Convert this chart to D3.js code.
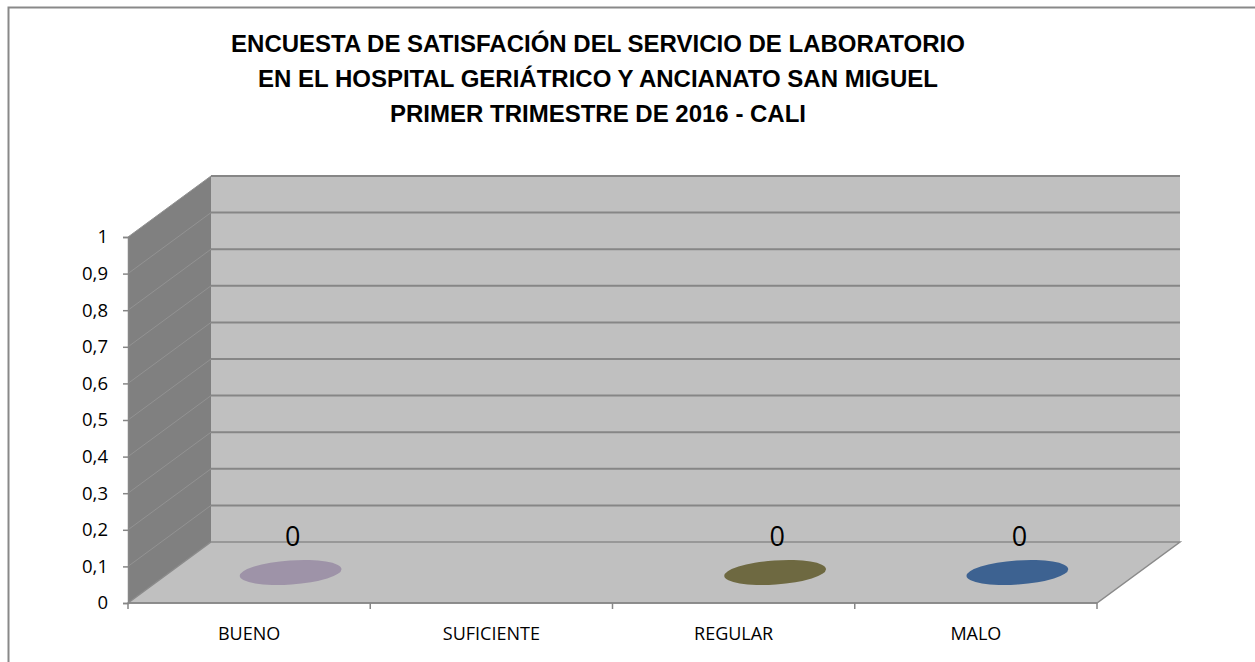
<!DOCTYPE html>
<html>
<head>
<meta charset="utf-8">
<script src="https://cdn.jsdelivr.net/npm/d3@7"></script>
<style>
body { margin: 0; background: #fff; }
svg text { font-family: "Open Sans", "Liberation Sans", sans-serif; }
</style>
</head>
<body>
<div id="chart"></div>
<script>
var w = 1255;
var h = 662;

var titleLines = [
  "ENCUESTA DE SATISFACIÓN DEL SERVICIO DE LABORATORIO",
  "EN EL HOSPITAL GERIÁTRICO Y ANCIANATO SAN MIGUEL",
  "PRIMER TRIMESTRE DE 2016 - CALI"
];
var categories = ["BUENO", "SUFICIENTE", "REGULAR", "MALO"];
var values = [0, null, 0, 0];
var colors = ["#9e93a8", null, "#6e6941", "#3d6291"];
var yTicks = [0, 0.1, 0.2, 0.3, 0.4, 0.5, 0.6, 0.7, 0.8, 0.9, 1];

// 3d depth offset
var dx = 83, dy = -61;

var x = d3.scaleBand().domain(categories).range([128, 1097]);
var y = d3.scaleLinear().domain([0, 1]).range([603, 237]);

var svg = d3.select("#chart").append("svg")
    .attr("width", w)
    .attr("height", h);

// chart border
svg.append("rect")
   .attr("x", 8.5).attr("y", 7.5)
   .attr("width", w + 10).attr("height", h + 10)
   .attr("fill", "none")
   .attr("stroke", "#898989")
   .attr("stroke-width", 2);

// title
svg.append("g").selectAll("text")
   .data(titleLines)
   .enter()
   .append("text")
   .attr("x", 598)
   .attr("y", function(d, i){ return 52 + i * 35; })
   .attr("text-anchor", "middle")
   .attr("font-size", "24px")
   .attr("font-weight", "bold")
   .attr("fill", "#000")
   .style("font-family", "'Liberation Sans', Arial, sans-serif")
   .text(function(d){ return d; });

var x0 = x.range()[0], x1 = x.range()[1];
var yMax = y(1), yMin = y(0);

// side wall
svg.append("path")
   .attr("d", "M" + x0 + "," + yMax + "L" + (x0 + dx) + "," + (yMax + dy) +
              "L" + (x0 + dx) + "," + (yMin + dy) + "L" + x0 + "," + yMin + "Z")
   .attr("fill", "#808080");

// back wall
svg.append("rect")
   .attr("x", x0 + dx).attr("y", yMax + dy)
   .attr("width", x1 - x0).attr("height", yMin - yMax)
   .attr("fill", "#c0c0c0");

// floor
svg.append("path")
   .attr("d", "M" + x0 + "," + yMin + "L" + (x0 + dx) + "," + (yMin + dy) +
              "L" + (x1 + dx) + "," + (yMin + dy) + "L" + x1 + "," + yMin + "Z")
   .attr("fill", "#c0c0c0")
   .attr("stroke", "#8a8a8a")
   .attr("stroke-width", 1.5);

// gridlines back wall
svg.append("g").selectAll("line")
   .data(yTicks.slice(1))
   .enter()
   .append("line")
   .attr("x1", x0 + dx).attr("x2", x1 + dx)
   .attr("y1", function(d){ return y(d) + dy; })
   .attr("y2", function(d){ return y(d) + dy; })
   .attr("stroke", "#868686")
   .attr("stroke-width", 2);

// gridlines side wall
svg.append("g").selectAll("line")
   .data(yTicks.slice(1))
   .enter()
   .append("line")
   .attr("x1", x0).attr("x2", x0 + dx)
   .attr("y1", function(d){ return y(d); })
   .attr("y2", function(d){ return y(d) + dy; })
   .attr("stroke", "#929292")
   .attr("stroke-width", 1);

// y axis
var yAxis = d3.axisLeft(y)
    .tickValues(yTicks)
    .tickSize(5)
    .tickFormat(function(d){ return String(d).replace(".", ","); });
var gy = svg.append("g")
    .attr("transform", "translate(" + x0 + ",0)")
    .call(yAxis);
gy.select(".domain").attr("stroke", "#868686").attr("stroke-width", 1.5);
gy.selectAll(".tick line").attr("stroke", "#868686").attr("stroke-width", 1.5);
gy.selectAll(".tick text")
  .attr("x", -20)
  .attr("font-size", "18.5px")
  .attr("fill", "#000")
  .style("font-family", "'Open Sans', sans-serif");

// x axis
var gx = svg.append("g");
gx.append("line")
  .attr("x1", x0).attr("x2", x1)
  .attr("y1", yMin).attr("y2", yMin)
  .attr("stroke", "#868686").attr("stroke-width", 1.5);
gx.selectAll(".tk")
  .data(categories.concat(["end"]))
  .enter()
  .append("line")
  .attr("class", "tk")
  .attr("x1", function(d, i){ return x0 + i * x.bandwidth(); })
  .attr("x2", function(d, i){ return x0 + i * x.bandwidth(); })
  .attr("y1", yMin).attr("y2", yMin + 6)
  .attr("stroke", "#868686").attr("stroke-width", 1.5);
gx.selectAll("text")
  .data(categories)
  .enter()
  .append("text")
  .attr("x", function(d){ return x(d) + x.bandwidth() / 2; })
  .attr("y", 640)
  .attr("text-anchor", "middle")
  .attr("font-size", "18px")
  .attr("fill", "#000")
  .text(function(d){ return d; });

// flat cylinders (value 0)
var data = categories.map(function(c, i){
  return { cat: c, value: values[i], color: colors[i] };
}).filter(function(d){ return d.value !== null; });

var marks = svg.append("g").selectAll("g")
   .data(data)
   .enter()
   .append("g")
   .attr("transform", function(d){
     var cx = x(d.cat) + x.bandwidth() / 2 + dx / 2;
     var cy = y(d.value) + dy / 2;
     return "translate(" + cx + "," + cy + ")";
   });

marks.append("ellipse")
   .attr("rx", 51)
   .attr("ry", 12)
   .attr("transform", "rotate(-4)")
   .attr("fill", function(d){ return d.color; });

marks.append("text")
   .attr("x", 2)
   .attr("y", -27)
   .attr("text-anchor", "middle")
   .attr("font-size", "27px")
   .attr("fill", "#000")
   .text(function(d){ return d.value; });
</script>
</body>
</html>
